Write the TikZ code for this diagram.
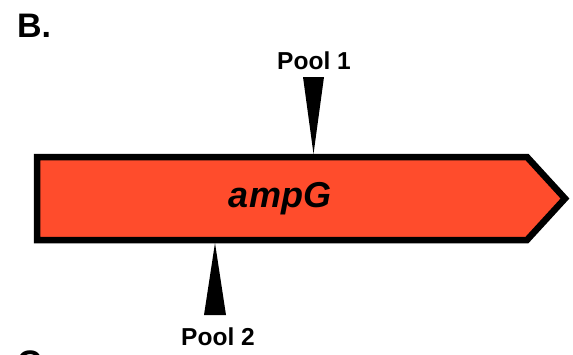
\documentclass[tikz,border=0pt]{standalone}
\usepackage{fontspec}
\setmainfont{Liberation Sans}
\definecolor{geneRed}{RGB}{255,76,44}
\tikzset{
  panel/.style={font=\bfseries\fontsize{34}{36}\selectfont, anchor=base west, inner sep=0pt},
  poolLabel/.style={font=\bfseries\fontsize{24.5}{26}\selectfont, anchor=base, inner sep=0pt},
  geneName/.style={font=\bfseries\itshape\fontsize{36}{38}\selectfont, anchor=base, inner sep=0pt},
  gene/.style={draw=black, line width=6.5pt, fill=geneRed, line join=miter},
  insertion/.style={fill=black, draw=none}
}
\begin{document}
\begin{tikzpicture}[x=1pt,y=-1pt]
  \useasboundingbox (0,0) rectangle (573,354);
  % panel letters
  \node[panel] (lblB) at (17,37) {B.};
  \node[panel] (lblC) at (17,374) {C.};
  % gene arrow
  \draw[gene] (37,157) -- (527,157) -- (565,198.5) -- (527,240) -- (37,240) -- cycle;
  \node[geneName] (gname) at (280,207) {ampG};
  % transposon insertion sites
  \fill[insertion] (303,77) -- (324,77) -- (313.5,154) -- cycle;
  \node[poolLabel] (pool1) at (314,69) {Pool 1};
  \fill[insertion] (204,315) -- (226,315) -- (215,243) -- cycle;
  \node[poolLabel] (pool2) at (218,345) {Pool 2};
\end{tikzpicture}
\end{document}
